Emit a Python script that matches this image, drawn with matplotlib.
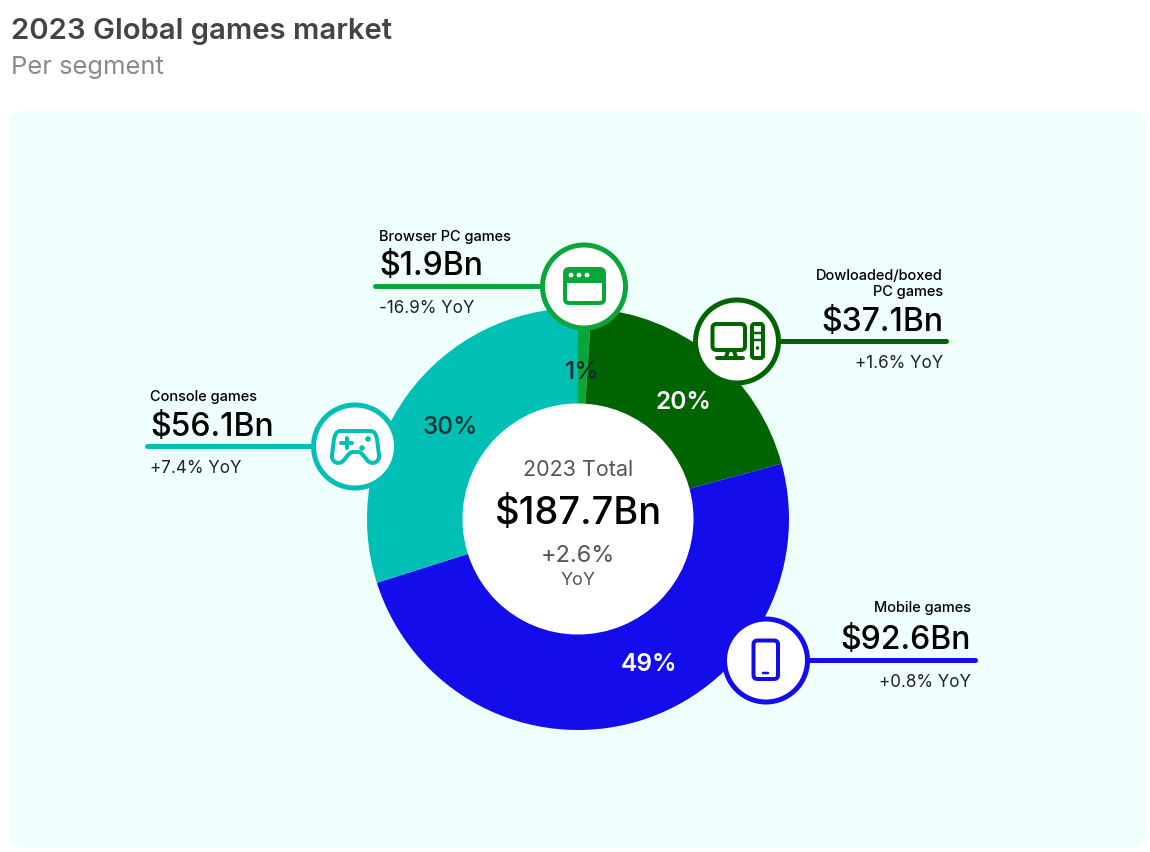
import matplotlib
matplotlib.use("Agg")
import matplotlib.pyplot as plt
from matplotlib.patches import Circle, FancyBboxPatch, PathPatch
from matplotlib.path import Path

plt.rcParams['font.family'] = ['Inter', 'DejaVu Sans']

# order is the order round the donut, clockwise from 12 o'clock
segments = ["Browser PC games", "Dowloaded/boxed\nPC games", "Mobile games", "Console games"]
revenue = [1.9, 37.1, 92.6, 56.1]
revenue_labels = ["$1.9Bn", "$37.1Bn", "$92.6Bn", "$56.1Bn"]
yoy_labels = ["-16.9% YoY", "+1.6% YoY", "+0.8% YoY", "+7.4% YoY"]
share_labels = ["1%", "20%", "49%", "30%"]
total_label = "$187.7Bn"
total_yoy = "+2.6%"

colors = ["#0AA63C", "#006400", "#130CEB", "#00BFB5"]
share_colors = ["#0A2A33", "white", "white", "#06302F"]
share_weights = ["medium", "semibold", "semibold", "medium"]
panel = "#EFFFFE"

W, H = 1150, 853
px = 0.72  # one pixel in points at dpi 100

fig = plt.figure(figsize=(W / 100, H / 100), dpi=100)
ax = fig.add_axes([0, 0, 1, 1])

ax.add_patch(FancyBboxPatch((24, 126), 1108, 708, boxstyle="round,pad=14,rounding_size=14",
                            fc=panel, ec="none", zorder=0))

# y axis is inverted below, so counterclock here reads clockwise on screen
ax.pie(revenue, colors=colors, center=(578, 520), radius=211, startangle=-90, counterclock=True,
       wedgeprops=dict(width=96, linewidth=0), normalize=True)
ax.set_xlim(0, W)
ax.set_ylim(H, 0)
ax.set_aspect("auto")
ax.axis("off")


def fs(size_px):
    return size_px * px


# white hole is transparent over the panel in pie, so fill it
ax.add_patch(Circle((578, 520), 115.5, fc="white", ec="none", zorder=2))

ax.text(11, 39, "2023 Global games market", fontsize=fs(29.3), fontweight="semibold", color="#444444")
ax.text(11, 74, "Per segment", fontsize=fs(25.6), color="#8A8A8A")

ax.text(578, 476, "2023 Total", fontsize=fs(21.5), color="#555555", ha="center", zorder=3)
ax.text(578, 524, total_label, fontsize=fs(38), color="black", fontweight="medium", ha="center", zorder=3)
ax.text(578, 562, total_yoy, fontsize=fs(23.5), color="#555555", ha="center", zorder=3)
ax.text(578, 585, "YoY", fontsize=fs(18), color="#555555", ha="center", zorder=3)

share_pos = [(582, 379), (683, 409), (649, 671), (450, 434)]
for lab, pos, c, w in zip(share_labels, share_pos, share_colors, share_weights):
    ax.text(pos[0], pos[1], lab, fontsize=fs(24.5), color=c, ha="center", fontweight=w, zorder=3)

# circle centre, leader line ends, text anchor, alignment, baselines for name / value / yoy
callouts = [
    dict(c=(584, 287.5), line=(375, 540, 287), x=379, ha="left", base=(241, 275, 313)),
    dict(c=(737, 342.5), line=(781, 946, 342), x=943, ha="right", base=(296, 331, 368)),
    dict(c=(766, 661.5), line=(809, 975, 661), x=971, ha="right", base=(612, 649, 687)),
    dict(c=(355, 447.5), line=(147, 312, 447), x=150, ha="left", base=(401, 436, 473)),
]
for i, co in enumerate(callouts):
    x0, x1, y = co["line"]
    ax.plot([x0, x1], [y, y], color=colors[i], lw=5 * px, solid_capstyle="round", zorder=4)
    ax.add_patch(Circle(co["c"], 41.5, fc="white", ec=colors[i], lw=5 * px, zorder=5))
    ax.text(co["x"], co["base"][0], segments[i], fontsize=fs(14.6), color="black", ha=co["ha"],
            fontweight="medium", linespacing=1.2, zorder=6)
    ax.text(co["x"], co["base"][1], revenue_labels[i], fontsize=fs(32), color="black", ha=co["ha"],
            fontweight="medium", zorder=6)
    ax.text(co["x"], co["base"][2], yoy_labels[i], fontsize=fs(17), color="#222222", ha=co["ha"], zorder=6)


def rbox(x0, y0, x1, y1, r, c, fill=False, lw=4):
    ax.add_patch(FancyBboxPatch((x0 + r, y0 + r), x1 - x0 - 2 * r, y1 - y0 - 2 * r,
                                boxstyle="round,pad=%g,rounding_size=%g" % (r, r),
                                fc=c if fill else "white", ec=c, lw=lw * px, zorder=7))


def stroke(xs, ys, c, lw=4):
    ax.plot(xs, ys, color=c, lw=lw * px, solid_capstyle="round", zorder=8)


# browser icon
c = colors[0]
rbox(565, 270, 604, 304, 4, c)
ax.add_patch(FancyBboxPatch((569, 274), 31, 6, boxstyle="round,pad=4,rounding_size=3", fc=c, ec=c, lw=0, zorder=8))
for dx in (571, 579, 587):
    ax.add_patch(Circle((dx, 276), 2.4, fc="white", ec="none", zorder=9))

# desktop icon
c = colors[1]
rbox(712.5, 325, 745, 351, 4, c)
stroke([728, 726], [352, 358], c)
stroke([734, 736], [352, 358], c)
stroke([717, 743], [359, 359], c)
rbox(752, 325, 763, 359, 2.5, c)
stroke([754, 761], [334, 334], c, 2.5)
stroke([754, 761], [341, 341], c, 2.5)
ax.add_patch(Circle((757.5, 349), 1.8, fc=c, ec="none", zorder=9))

# gamepad icon
c = colors[3]
pad = [(Path.MOVETO, (341, 432)), (Path.LINETO, (370, 432)),
       (Path.CURVE4, (375, 432)), (Path.CURVE4, (376, 436)), (Path.CURVE4, (377, 440)),
       (Path.LINETO, (379, 456)),
       (Path.CURVE4, (380, 463)), (Path.CURVE4, (372, 467)), (Path.CURVE4, (367, 461)),
       (Path.LINETO, (363, 456)),
       (Path.CURVE4, (361, 454)), (Path.CURVE4, (360, 453)), (Path.CURVE4, (358, 453)),
       (Path.LINETO, (353, 453)),
       (Path.CURVE4, (351, 453)), (Path.CURVE4, (350, 454)), (Path.CURVE4, (348, 456)),
       (Path.LINETO, (344, 461)),
       (Path.CURVE4, (339, 467)), (Path.CURVE4, (331, 463)), (Path.CURVE4, (332, 456)),
       (Path.LINETO, (334, 440)),
       (Path.CURVE4, (335, 436)), (Path.CURVE4, (336, 432)), (Path.CURVE4, (341, 432)),
       (Path.CLOSEPOLY, (341, 432))]
ax.add_patch(PathPatch(Path([p for _, p in pad], [k for k, _ in pad]), fc="white", ec=c, lw=4 * px, zorder=7))
stroke([341, 352], [444, 444], c)
stroke([346.5, 346.5], [439, 449], c)
ax.add_patch(Circle((368, 440), 2.8, fc=c, ec="none", zorder=9))
ax.add_patch(Circle((362, 449), 2.8, fc=c, ec="none", zorder=9))

# phone icon
c = colors[2]
rbox(753.5, 641.5, 778, 680, 4, c)
stroke([763, 768], [674, 674], c, 2.5)

fig.savefig("out.png", dpi=100, facecolor="white")
